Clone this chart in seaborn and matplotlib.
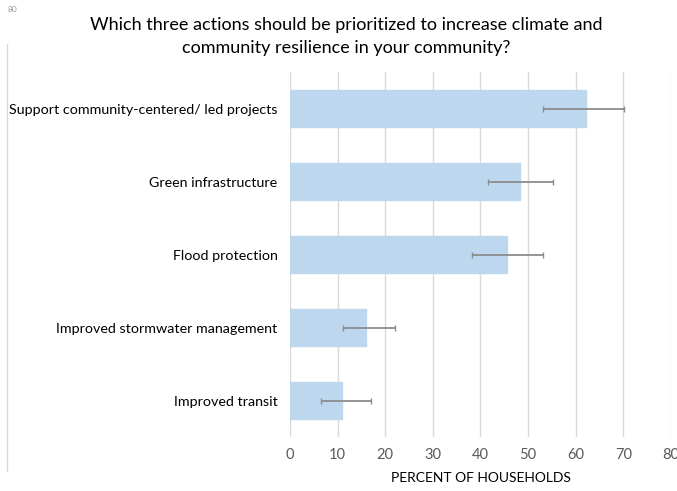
import numpy as np
import pandas as pd
import matplotlib
matplotlib.use("Agg")
import matplotlib.pyplot as plt
import seaborn as sns

categories = [
    "Support community-centered/ led projects",
    "Green infrastructure",
    "Flood protection",
    "Improved stormwater management",
    "Improved transit",
]
percent = [62.2, 48.3, 45.6, 16.0, 10.9]
err_low = [53.2, 41.6, 38.2, 11.1, 6.5]
err_high = [70.2, 55.3, 53.2, 22.1, 17.0]
x_ticks = [0, 10, 20, 30, 40, 50, 60, 70, 80]

df = pd.DataFrame({"action": categories, "percent": percent})

sns.set_theme(style="white")
plt.rcParams["font.family"] = ["Lato", "DejaVu Sans"]

fig = plt.figure(figsize=(6.77, 4.91), dpi=100)
ax = fig.add_axes([0.4284, 0.11, 0.5626, 0.743])

sns.barplot(data=df, x="percent", y="action", orient="h", color="#BDD7EE",
            saturation=1, width=0.5, ax=ax, zorder=2)
for p in ax.patches:
    p.set_edgecolor("#BDD7EE")

lo = np.array(percent) - np.array(err_low)
hi = np.array(err_high) - np.array(percent)
ax.errorbar(percent, np.arange(len(categories)), xerr=[lo, hi], fmt="none",
            ecolor="#8C8C8C", elinewidth=1.3, capsize=2.5, capthick=1.0, zorder=3)

ax.set_xlim(0, 80)
ax.set_ylim(len(categories) - 0.5, -0.5)
ax.set_xticks(x_ticks)
ax.xaxis.grid(True, color="#D9D9D9", linewidth=1.0, zorder=0)
ax.set_axisbelow(True)
for s in ax.spines.values():
    s.set_visible(False)

ax.tick_params(axis="x", colors="#595959", labelsize=10.5, length=0, pad=8)
ax.tick_params(axis="y", colors="black", labelsize=10.3, length=0, pad=9)
for t in ax.get_yticklabels():
    t.set_color("black")
ax.set_ylabel("")
ax.set_xlabel("PERCENT OF HOUSEHOLDS", fontsize=10, color="black", labelpad=7)

fig.suptitle("Which three actions should be prioritized to increase climate and\n"
             "community resilience in your community?",
             x=0.512, y=0.966, fontsize=13, color="black", linespacing=1.55)

fig.text(0.012, 0.988, "80", fontsize=6, color="#999999", va="top")
fig.add_artist(plt.Line2D([0.011, 0.011], [0.04, 0.91], color="#D9D9D9", linewidth=1.0))

fig.savefig("out.png", dpi=100)
